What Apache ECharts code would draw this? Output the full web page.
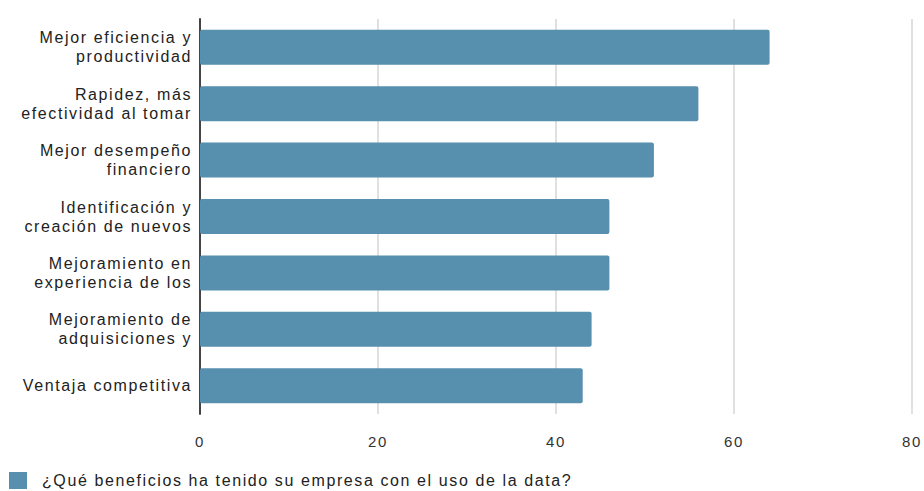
<!DOCTYPE html>
<html>
<head>
<meta charset="utf-8">
<script src="https://cdn.jsdelivr.net/npm/echarts@6/dist/echarts.min.js"></script>
<style>
  html, body { margin: 0; padding: 0; background: #fff; }
  #main { width: 924px; height: 491px; }
  /* el texto del original es mas ancho */
  #main svg text { letter-spacing: 1.6px; }
</style>
</head>
<body>
<div id="main"></div>
<script>
// datos
const categories = [
  'Mejor eficiencia y\nproductividad',
  'Rapidez, más\nefectividad al tomar',
  'Mejor desempeño\nfinanciero',
  'Identificación y\ncreación de nuevos',
  'Mejoramiento en\nexperiencia de los',
  'Mejoramiento de\nadquisiciones y',
  'Ventaja competitiva'
];
const values = [64, 56, 51, 46, 46, 44, 43];
const seriesName = '¿Qué beneficios ha tenido su empresa con el uso de la data?';
const xTicks = [0, 20, 40, 60, 80];

const myChart = echarts.init(document.getElementById('main'), null, { renderer: 'svg' });
myChart.setOption({
  animation: false,
  textStyle: { fontFamily: 'Liberation Sans, Arial, sans-serif' },
  legend: {
    left: 4,
    top: 467,
    itemWidth: 18,
    itemHeight: 17,
    itemGap: 10,
    icon: 'rect',
    textStyle: { fontSize: 16, color: '#222', padding: [0, 0, 0, 10] },
    data: [seriesName]
  },
  grid: { left: 200, right: 12, top: 19, height: 395, containLabel: false },
  xAxis: {
    type: 'value',
    min: xTicks[0],
    max: xTicks[xTicks.length - 1],
    interval: 20,
    axisLine: { show: false },
    axisTick: { show: false },
    splitLine: { lineStyle: { color: '#e0e0e0', width: 2 } },
    axisLabel: { fontSize: 15, color: '#333', margin: 20 }
  },
  yAxis: {
    type: 'category',
    inverse: true,
    data: categories,
    axisLine: { show: true, lineStyle: { color: '#444', width: 2 } },
    axisTick: { show: false },
    axisLabel: {
      fontSize: 16,
      color: '#222',
      lineHeight: 19,
      margin: 8,
      align: 'right'
    }
  },
  series: [{
    name: seriesName,
    type: 'bar',
    data: values,
    barCategoryGap: '38%',
    itemStyle: { color: '#578fae', borderRadius: 2 }
  }]
});
</script>
</body>
</html>
